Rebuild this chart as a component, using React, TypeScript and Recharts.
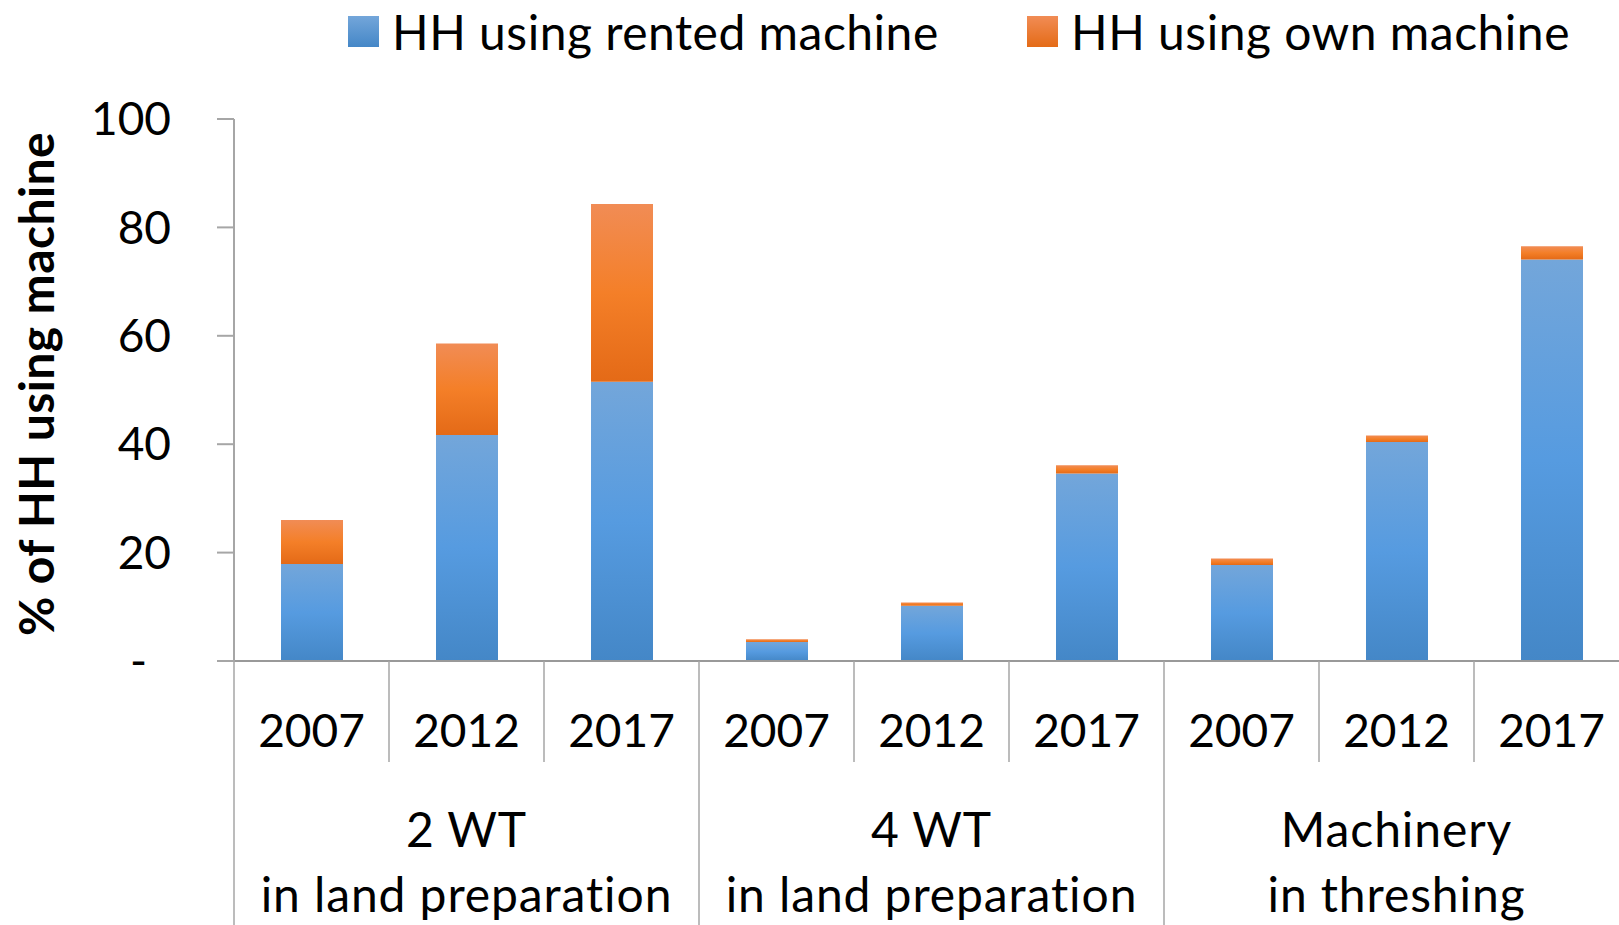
import { Bar, BarChart, XAxis, YAxis } from "recharts";

const years = ["2007", "2012", "2017", "2007", "2012", "2017", "2007", "2012", "2017"];
const groupLabels = [
  ["2 WT", "in land preparation"],
  ["4 WT", "in land preparation"],
  ["Machinery", "in threshing"],
];
const rented = [17.9, 41.7, 51.5, 3.5, 10.2, 34.6, 17.7, 40.4, 74.1];
const own = [8.1, 16.9, 32.8, 0.5, 0.6, 1.5, 1.2, 1.2, 2.4];
const yTicks = [0, 20, 40, 60, 80, 100];

const FONT = "Lato, Carlito, Calibri, sans-serif";
const CHART_W = 1640;
const CHART_H = 940;
const TOP = 119;
const BASE = 661;
const LEFT = 234;
const RIGHT_MARGIN = 11;
const BAND = (CHART_W - LEFT - RIGHT_MARGIN) / years.length;
const GRID = "#a6a6a6";

const data = years.map((year, i) => ({
  key: `${i}-${year}`,
  year,
  rented: rented[i],
  own: own[i],
}));

function YTick({ x, y, payload }: any) {
  const zero = payload.value === 0;
  return (
    <text
      x={zero ? x - 24 : x}
      y={y}
      dy="0.35em"
      textAnchor="end"
      fontSize={46}
      fontFamily={FONT}
      fill="#000"
    >
      {zero ? "-" : payload.value}
    </text>
  );
}

function XTick({ x, index }: any) {
  const left = x - BAND / 2;
  const groupStart = index % 3 === 0;
  const group = groupLabels[Math.floor(index / 3)];
  const labelStyle = { fontSize: 48, fontFamily: FONT, letterSpacing: 0.9 };
  return (
    <g>
      <line
        x1={left}
        x2={left}
        y1={BASE}
        y2={groupStart ? CHART_H : 762}
        stroke={GRID}
        strokeWidth={1.5}
      />
      {index === years.length - 1 && (
        <line x1={left + BAND} x2={left + BAND} y1={BASE} y2={CHART_H} stroke={GRID} strokeWidth={1.5} />
      )}
      <text x={x} y={747} textAnchor="middle" fontSize={46} fontFamily={FONT} fill="#000">
        {years[index]}
      </text>
      {index % 3 === 1 && (
        <>
          <text x={x} y={847} textAnchor="middle" style={labelStyle} fill="#000">
            {group[0]}
          </text>
          <text x={x} y={912} textAnchor="middle" style={labelStyle} fill="#000">
            {group[1]}
          </text>
        </>
      )}
    </g>
  );
}

function LegendItem({ label, from, to, left }: { label: string; from: string; to: string; left: number }) {
  return (
    <div style={{ position: "absolute", left, top: 0, display: "flex", alignItems: "center", height: 62 }}>
      <div
        style={{
          width: 31,
          height: 31,
          background: `linear-gradient(${from}, ${to})`,
          marginRight: 13,
        }}
      />
      <span
        style={{
          fontFamily: FONT,
          fontSize: 48,
          letterSpacing: 0.5,
          color: "#000",
          whiteSpace: "nowrap",
        }}
      >
        {label}
      </span>
    </div>
  );
}

export default function App() {
  return (
    <div
      style={{
        position: "absolute",
        left: 0,
        top: 0,
        width: 1619,
        height: 925,
        overflow: "hidden",
        background: "#fff",
      }}
    >
      <LegendItem label="HH using rented machine" from="#73a6da" to="#4587c7" left={348} />
      <LegendItem label="HH using own machine" from="#f18c55" to="#e46b17" left={1027} />
      <div style={{ position: "absolute", left: 0, top: 0 }}>
        <BarChart
          width={CHART_W}
          height={CHART_H}
          data={data}
          margin={{ top: TOP, right: RIGHT_MARGIN, bottom: 0, left: 0 }}
        >
          <defs>
            <linearGradient id="gBlue" x1="0" y1="0" x2="0" y2="1">
              <stop offset="0%" stopColor="#73a6da" />
              <stop offset="50%" stopColor="#569be0" />
              <stop offset="100%" stopColor="#4487c7" />
            </linearGradient>
            <linearGradient id="gOrange" x1="0" y1="0" x2="0" y2="1">
              <stop offset="0%" stopColor="#f18c55" />
              <stop offset="50%" stopColor="#f47f28" />
              <stop offset="100%" stopColor="#e46a17" />
            </linearGradient>
          </defs>
          <XAxis
            dataKey="key"
            interval={0}
            height={CHART_H - BASE}
            axisLine={{ stroke: "#999", strokeWidth: 2 }}
            tickLine={false}
            tick={(props: any) => <XTick {...props} />}
          />
          <YAxis
            domain={[0, 100]}
            ticks={yTicks}
            interval={0}
            width={LEFT}
            tickSize={17}
            tickMargin={46}
            axisLine={{ stroke: GRID, strokeWidth: 2 }}
            tickLine={{ stroke: GRID, strokeWidth: 2 }}
            tick={(props: any) => <YTick {...props} />}
            label={{
              content: () => (
                <text
                  x={54}
                  y={384}
                  transform="rotate(-90, 54, 384)"
                  textAnchor="middle"
                  style={{ fontSize: 48, fontWeight: 700, fontFamily: FONT, letterSpacing: 0.4 }}
                  fill="#000"
                >
                  % of HH using machine
                </text>
              ),
            }}
          />
          <Bar dataKey="rented" stackId="a" fill="url(#gBlue)" barSize={62} isAnimationActive={false} />
          <Bar dataKey="own" stackId="a" fill="url(#gOrange)" barSize={62} isAnimationActive={false} />
        </BarChart>
      </div>
    </div>
  );
}
